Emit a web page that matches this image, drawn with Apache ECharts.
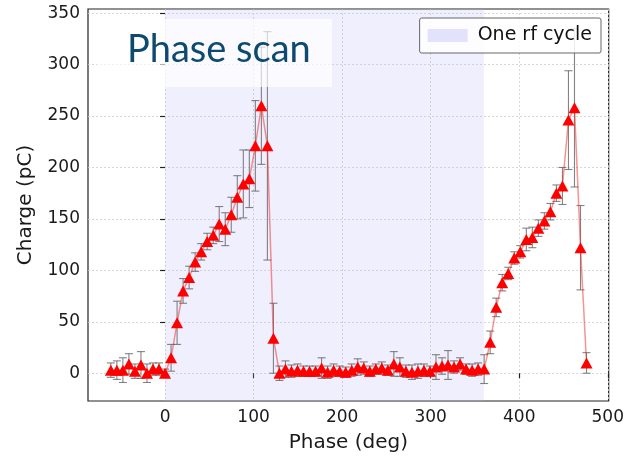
<!DOCTYPE html>
<html>
<head>
<meta charset="utf-8">
<script src="https://cdn.jsdelivr.net/npm/echarts@6/dist/echarts.min.js"></script>
<style>
  html, body { margin: 0; padding: 0; background: #fff; }
  #chart { width: 627px; height: 458px; }
</style>
</head>
<body>
<div id="chart"></div>
<script>
// phase of each shot (deg)
var phase = [-61.2, -54.4, -47.6, -40.8, -34, -27.2, -20.4, -13.6, -6.8,
	0, 6.8, 13.6, 20.4, 27.2, 34, 40.8, 47.6, 54.4, 61.2, 68, 74.8, 81.6, 88.4, 95.2, 102, 108.8, 115.6, 122.4,
	129.2, 136, 142.8, 149.6, 156.4, 163.2, 170, 176.8, 183.6, 190.4, 197.2, 204, 210.8, 217.6, 224.4, 231.2,
	238, 244.8, 251.6, 258.4, 265.2, 272, 278.8, 285.6, 292.4, 299.2, 306, 312.8, 319.6, 326.4, 333.2, 340,
	346.8, 353.6, 360.4, 367.2, 374, 380.8, 387.6, 394.4, 401.2, 408, 414.8, 421.6, 428.4, 435.2, 442, 448.8,
	455.6, 462.4, 469.2, 476];
// charge (pC)
var charge = [3, 3, 3, 9, 2, 8, 0, 4, 4,
	0, 15, 49, 80, 93, 108, 118, 128, 134, 145, 140, 154, 171, 184, 189, 221, 260, 221, 34,
	0, 4, 2, 3, 2, 2, 2, 5, 1, 3, 2, 1, 3, 6, 5, 2, 4, 5, 3, 9, 6, 2, 1, 2, 3, 2, 6, 7, 8, 6, 9, 4, 3, 4, 4,
	30, 64, 88, 97, 112, 118, 130, 132, 141, 148, 157, 175, 182, 246, 258, 122, 10];
// error (pC)
var chargeErr = [7, 9, 12, 10, 7, 13, 9, 6, 6,
	4, 13, 21, 12, 11, 9, 8, 8, 8, 17, 16, 17, 21, 33, 28, 44, 57, 111, 34,
	7, 8, 6, 6, 5, 5, 5, 10, 6, 6, 5, 5, 6, 8, 6, 5, 5, 6, 5, 12, 9, 6, 7, 7, 6, 5, 12, 8, 14, 6, 6, 5, 6, 6, 14,
	11, 9, 8, 6, 6, 6, 11, 10, 8, 8, 8, 8, 18, 48, 77, 41, 10];
// one rf cycle
var rfCycle = [0, 360];
var xTicks = [0, 100, 200, 300, 400, 500];
var yTicks = [0, 50, 100, 150, 200, 250, 300, 350];

var cycleColor = 'rgba(175,175,250,0.2)';
var tickFont = { fontFamily: 'DejaVu Sans', fontSize: 17, color: '#1a1a1a' };

var lineData = phase.map(function (p, i) { return [p, charge[i]]; });
var errData = phase.map(function (p, i) { return [p, charge[i] - chargeErr[i], charge[i] + chargeErr[i]]; });

var option = {
	animation: false,
	grid: {
		left: 88,
		right: 17,
		top: 9,
		bottom: 56,
		show: true,
		borderColor: '#222',
		borderWidth: 1.2,
		backgroundColor: 'transparent'
	},
	legend: {
		data: [{ name: 'One rf cycle', icon: 'rect', itemStyle: { color: 'rgba(200,200,250,0.5)' } }],
		right: 26,
		top: 18,
		padding: [8, 9, 8, 8],
		itemWidth: 40,
		itemHeight: 13,
		borderColor: '#666',
		borderWidth: 1,
		borderRadius: 2,
		backgroundColor: 'rgba(255,255,255,0.85)',
		textStyle: { fontFamily: 'DejaVu Sans', fontSize: 19, color: '#111', padding: [0, 0, 0, 5] }
	},
	xAxis: {
		type: 'value',
		min: -87,
		max: 501,
		name: 'Phase (deg)',
		nameLocation: 'middle',
		nameGap: 32,
		nameTextStyle: { fontFamily: 'DejaVu Sans', fontSize: 20, color: '#1a1a1a' },
		axisLine: { show: false },
		axisTick: { show: true, length: 5, customValues: xTicks, lineStyle: { color: '#222', width: 1.2 } },
		axisLabel: Object.assign({ customValues: xTicks, margin: 8 }, tickFont),
		splitLine: { show: true, lineStyle: { color: '#cfcfcf', type: [2, 2], width: 0.8 } }
	},
	yAxis: {
		type: 'value',
		min: -27,
		max: 354,
		name: 'Charge (pC)',
		nameLocation: 'middle',
		nameGap: 52,
		nameTextStyle: { fontFamily: 'DejaVu Sans', fontSize: 20, color: '#1a1a1a' },
		axisLine: { show: false },
		axisTick: { show: true, length: 5, customValues: yTicks, lineStyle: { color: '#222', width: 1.2 } },
		axisLabel: Object.assign({ customValues: yTicks, margin: 8 }, tickFont),
		splitLine: { show: true, lineStyle: { color: '#cfcfcf', type: [2, 2], width: 0.8 } }
	},
	graphic: [{
		type: 'rect',
		shape: { x: 97, y: 19, width: 235, height: 68 },
		style: { fill: 'rgba(255,255,255,0.65)' },
		z: 50
	}, {
		type: 'text',
		left: 127,
		top: 31,
		style: { text: 'Phase scan', fontFamily: 'Lato', fontSize: 38, fill: '#0e4a6e' },
		z: 51
	}],
	series: [{
		name: 'One rf cycle',
		type: 'line',
		data: [],
		itemStyle: { color: cycleColor },
		z: 1,
		markArea: {
			silent: true,
			itemStyle: { color: cycleColor },
			data: [[{ xAxis: rfCycle[0] }, { xAxis: rfCycle[1] }]]
		}
	}, {
		name: 'error',
		type: 'custom',
		z: 3,
		data: errData,
		renderItem: function (params, api) {
			var lo = api.coord([api.value(0), api.value(1)]);
			var hi = api.coord([api.value(0), api.value(2)]);
			var cap = 4;
			var st = { stroke: 'rgba(100,100,100,0.8)', lineWidth: 1.1 };
			return {
				type: 'group',
				children: [
					{ type: 'line', shape: { x1: lo[0], y1: lo[1], x2: hi[0], y2: hi[1] }, style: st },
					{ type: 'line', shape: { x1: lo[0] - cap, y1: lo[1], x2: lo[0] + cap, y2: lo[1] }, style: st },
					{ type: 'line', shape: { x1: hi[0] - cap, y1: hi[1], x2: hi[0] + cap, y2: hi[1] }, style: st }
				]
			};
		}
	}, {
		name: 'charge',
		type: 'line',
		z: 4,
		data: lineData,
		symbol: 'triangle',
		symbolSize: [12, 11],
		itemStyle: { color: '#ff0000' },
		lineStyle: { color: 'rgba(240,40,40,0.5)', width: 1.5 }
	}]
};

var chart = echarts.init(document.getElementById('chart'));
chart.setOption(option);
</script>
</body>
</html>
